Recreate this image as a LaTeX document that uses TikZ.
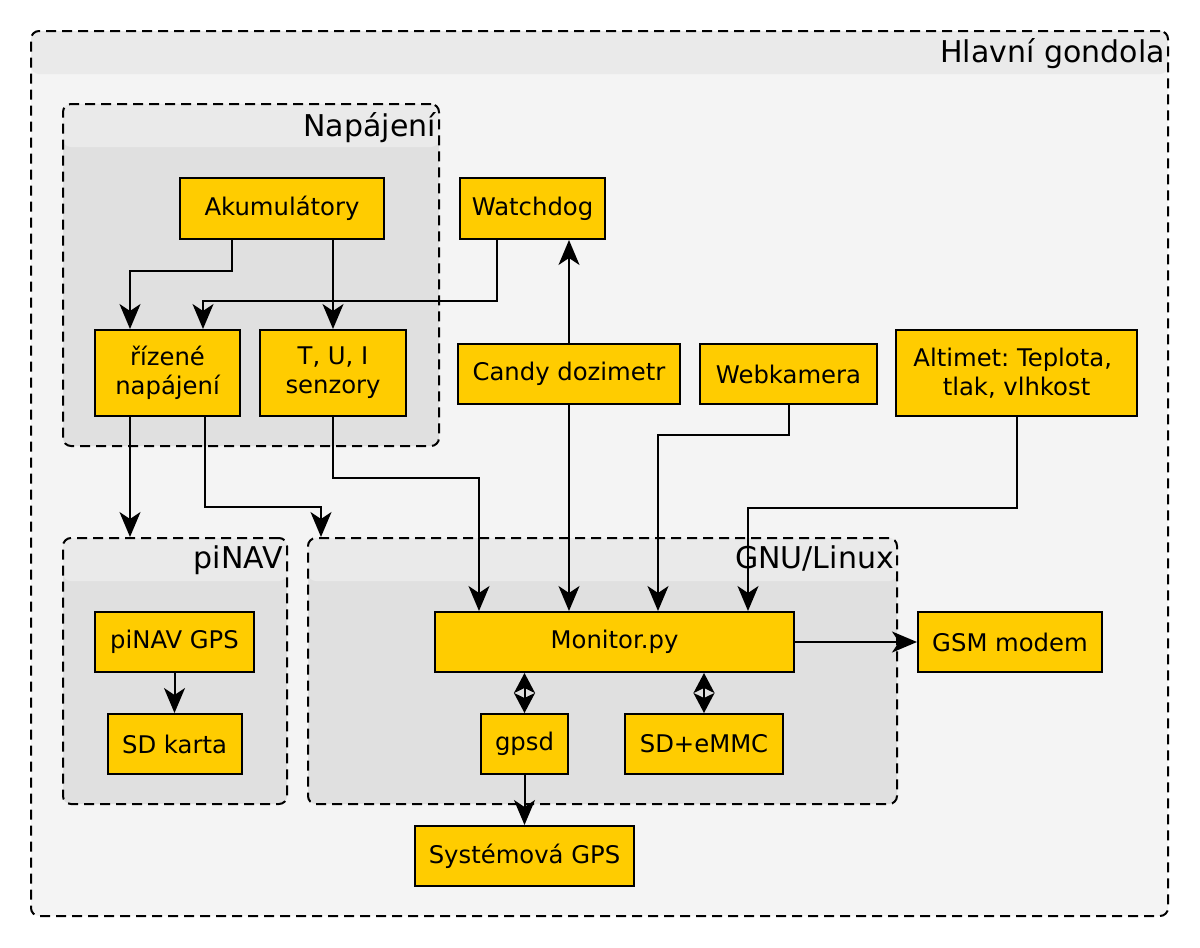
\documentclass[tikz,border=0pt]{standalone}
\usepackage{fontspec}
\setmainfont{DejaVu Sans}
\usetikzlibrary{arrows.meta,calc}
\definecolor{boxyellow}{HTML}{FFCC00}
\definecolor{headgray}{HTML}{EAEAEA}
\definecolor{outergray}{HTML}{F4F4F4}
\definecolor{innergray}{HTML}{E0E0E0}
\frenchspacing
\begin{document}
\begin{tikzpicture}
		[x=1pt,y=-1pt,
		box/.style={draw=black,line width=2pt,fill=boxyellow,minimum height=60pt,
			inner sep=0pt,align=center,font=\fontsize{24.3}{29}\selectfont},
		cluster/.style={draw=black,line width=2pt,dash pattern=on 10pt off 6pt,
			rounded corners=8pt,inner sep=0pt,
			path picture={\fill[headgray] (path picture bounding box.north west)
				rectangle ([yshift=-43pt]path picture bounding box.north east);}},
		title/.style={anchor=base east,inner sep=0pt,font=\fontsize{30}{36}\selectfont},
		arr/.style={line width=2pt,-{Stealth[length=25pt,width=21pt,inset=7pt]}},
		dbl/.style={line width=2pt,{Stealth[length=20pt,width=21pt,inset=5pt]}-{Stealth[length=20pt,width=21pt,inset=5pt]}}
	]
		\useasboundingbox (0,0) rectangle (1200,948);
		% clusters
		\node[cluster,fill=outergray,minimum width=1137pt,minimum height=885pt] (gondola) at (599.5,473.5) {};
		\node[title] at ($(gondola.north east)+(-4,32)$) {Hlavní gondola};
		\node[cluster,fill=innergray,minimum width=376pt,minimum height=342pt] (napajeni) at (251,275) {};
		\node[title] at ($(napajeni.north east)+(-4,33)$) {Napájení};
		\node[cluster,fill=innergray,minimum width=224pt,minimum height=266pt] (pinav) at (175,671) {};
		\node[title] at ($(pinav.north east)+(-5,31)$) {piNAV};
		\node[cluster,fill=innergray,minimum width=589pt,minimum height=266pt] (linux) at (602.5,671) {};
		\node[title] at ($(linux.north east)+(-4,31)$) {GNU/Linux};
		% nodes
		\node[box,minimum width=204pt,minimum height=61pt] (akku) at (282,208.5) {Akumulátory};
		\node[box,minimum width=145pt,minimum height=61pt] (watchdog) at (532.5,208.5) {Watchdog};
		\node[box,minimum width=145pt,minimum height=86pt] (rizene) at (167.5,373) {řízené\\napájení};
		\node[box,minimum width=146pt,minimum height=86pt] (senzory) at (333,373) {T, U, I\\senzory};
		\node[box,minimum width=222pt] (candy) at (569,374) {Candy dozimetr};
		\node[box,minimum width=177pt] (webkam) at (788.5,374) {Webkamera};
		\node[box,minimum width=241pt,minimum height=86pt] (altimet) at (1016.5,373) {Altimet: Teplota,\hspace*{7.6pt}\\tlak, vlhkost};
		\node[box,minimum width=159pt] (pinavgps) at (174.5,642) {piNAV GPS};
		\node[box,minimum width=134pt] (sdkarta) at (174.5,744) {SD karta};
		\node[box,minimum width=359pt] (monitor) at (614.5,642) {Monitor.py};
		\node[box,minimum width=87pt] (gpsd) at (524.5,744) {gpsd};
		\node[box,minimum width=158pt] (sdemmc) at (704,744) {SD+eMMC};
		\node[box,minimum width=184pt] (gsm) at (1010,642) {GSM modem};
		\node[box,minimum width=219pt] (sysgps) at (524.5,856) {Systémová GPS};
		% connectors
		\draw[arr] ($(akku.south)+(-50,0)$) -- ++(0,31) -| ($(rizene.north)+(-37.5,0)$);
		\draw[arr] ($(akku.south)+(51,0)$) -- (senzory.north);
		\draw[arr] ($(watchdog.south)+(-35.5,0)$) -- ++(0,61) -| ($(rizene.north)+(35.5,0)$);
		\draw[arr] (candy.north) -- (candy.north |- watchdog.south);
		\draw[arr] ($(rizene.south)+(-37.5,0)$) coordinate (r1) -- (r1 |- pinav.north);
		\draw[arr] ($(rizene.south)+(37.5,0)$) -- ++(0,90) -| ($(linux.north west)+(14,0)$);
		\draw[arr] (senzory.south) -- ++(0,61) -| ($(monitor.north)+(-135.5,0)$);
		\draw[arr] (candy.south) -- (candy.south |- monitor.north);
		\draw[arr] (webkam.south) -- ++(0,30) -| ($(monitor.north)+(43.5,0)$);
		\draw[arr] (altimet.south) -- ++(0,91) -| ($(monitor.north)+(133.5,0)$);
		\draw[arr] (monitor.east) -- (gsm.west);
		\draw[dbl] (gpsd.north |- monitor.south) -- (gpsd.north);
		\draw[dbl] (sdemmc.north |- monitor.south) -- (sdemmc.north);
		\draw[arr] (pinavgps.south) -- (sdkarta.north);
		\draw[arr] (gpsd.south) -- (sysgps.north);
	\end{tikzpicture}
\end{document}
